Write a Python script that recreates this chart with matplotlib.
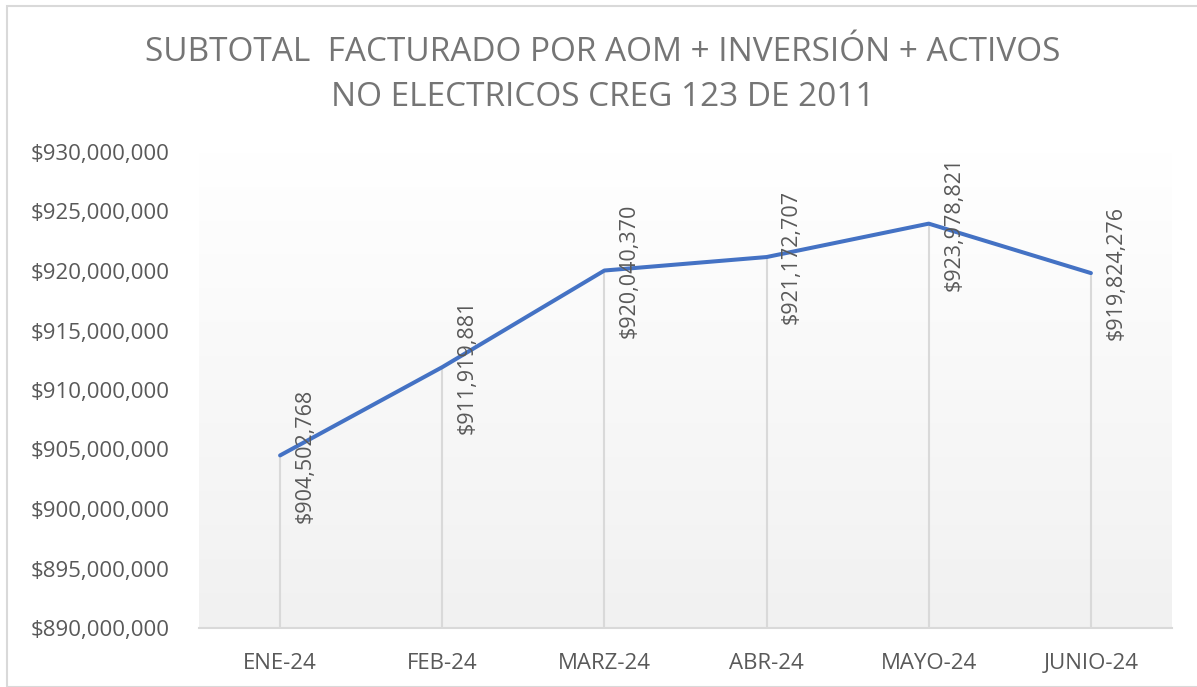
import numpy as np
import matplotlib
matplotlib.use("Agg")
import matplotlib.pyplot as plt
from matplotlib.patches import Rectangle
from matplotlib.ticker import FuncFormatter

# data
months = ["ENE-24", "FEB-24", "MARZ-24", "ABR-24", "MAYO-24", "JUNIO-24"]
values = [904502768, 911919881, 920040370, 921172707, 923978821, 919824276]
yticks = [890000000, 895000000, 900000000, 905000000, 910000000,
          915000000, 920000000, 925000000, 930000000]
title = "SUBTOTAL  FACTURADO POR AOM + INVERSIÓN + ACTIVOS\nNO ELECTRICOS CREG 123 DE 2011"

plt.rcParams['font.family'] = ['Open Sans', 'DejaVu Sans']

W, H = 1197, 687
fig = plt.figure(figsize=(W / 100, H / 100), dpi=100)

# outer chart border
fig.patches.append(Rectangle((7 / W, 0), 2, 1 - 6 / H, transform=fig.transFigure,
                             fill=False, edgecolor="#d9d9d9", lw=1.5))

ax = fig.add_axes([199 / W, 1 - 628 / H, (1172 - 199) / W, (628 - 152) / H])
x = np.arange(len(months))

# gradient plot area: white at top, light gray at bottom
grad = np.linspace(1.0, 0.945, 256).reshape(-1, 1)
ax.imshow(np.dstack([grad, grad, grad]), extent=[0, 1, 0, 1], transform=ax.transAxes,
          aspect="auto", zorder=0)

ax.set_xlim(-0.5, len(months) - 0.5)
ax.set_ylim(yticks[0], yticks[-1])

# drop lines
ax.vlines(x, yticks[0], values, color="#d9d9d9", lw=1.5, zorder=1)
ax.plot(x, values, color="#4472c4", lw=2.9, solid_capstyle="round", zorder=3)

for xi, v in zip(x, values):
    ax.annotate("${:,}".format(v), (xi, v), xytext=(18, 0), textcoords="offset points",
                rotation=90, ha="center", va="center", fontsize=15.5, color="#595959",
                zorder=4)

ax.set_xticks(x)
ax.set_xticklabels(months)
ax.set_yticks(yticks)
ax.yaxis.set_major_formatter(FuncFormatter(lambda v, p: "${:,.0f}".format(v)))
ax.tick_params(axis="both", length=0, labelsize=16, colors="#595959")
ax.tick_params(axis="x", pad=18)
ax.tick_params(axis="y", pad=21)

for s in ["top", "right", "left"]:
    ax.spines[s].set_visible(False)
ax.spines["bottom"].set_color("#d9d9d9")
ax.spines["bottom"].set_linewidth(1.5)

fig.text(603 / W, 1 - 75 / H, title, ha="center", va="center", fontsize=24,
         color="#757575", linespacing=1.5)

fig.savefig("out.png", dpi=100)
